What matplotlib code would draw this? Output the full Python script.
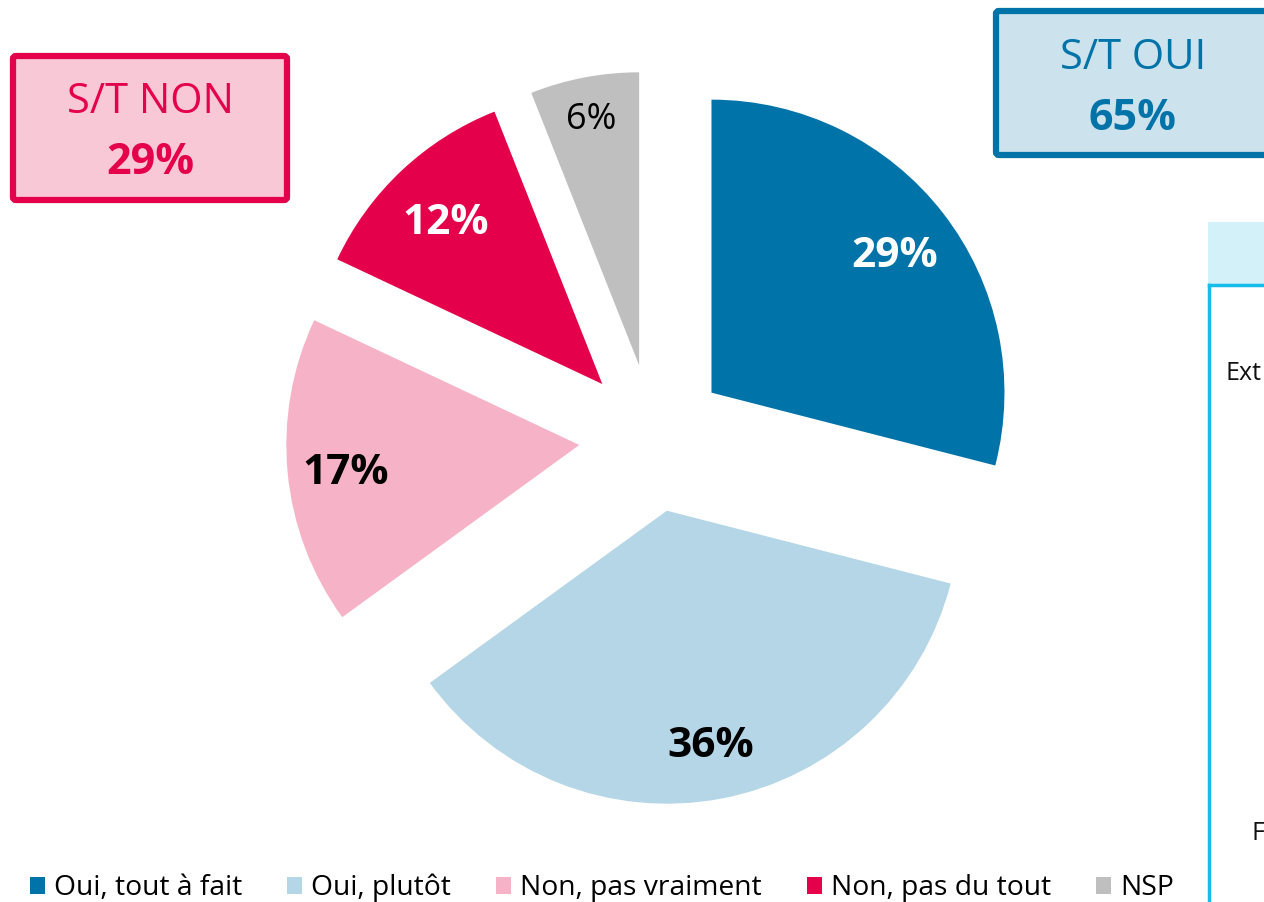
import numpy as np
import matplotlib.pyplot as plt
from matplotlib.patches import Rectangle, FancyBboxPatch

plt.rcParams['font.family'] = ['Open Sans', 'DejaVu Sans']

categories = ["Oui, tout à fait", "Oui, plutôt", "Non, pas vraiment", "Non, pas du tout", "NSP"]
values = [29, 36, 17, 12, 6]
colors = ["#0073A9", "#B4D6E6", "#F6B3C8", "#E4004B", "#BFBFBF"]
label_colors = ["white", "black", "black", "white", "black"]
label_weights = ["bold", "bold", "bold", "bold", "normal"]
label_sizes = [30.5, 30.5, 30.5, 30.5, 26]
label_dist = [0.79, 0.80, 0.80, 0.78, 0.87]

st_non = 29
st_oui = 65

W, H = 1264, 902
fig = plt.figure(figsize=(W / 100, H / 100), dpi=100)
ax = fig.add_axes([0, 0, 1, 1])


def Y(y):
    # image coords (y from top) -> data coords
    return H - y


wedges, texts, autotexts = ax.pie(
    values, colors=colors, startangle=90, counterclock=False,
    center=(653, Y(438)), radius=293, explode=[74] * len(values),
    autopct=lambda p: f"{p:.0f}%", pctdistance=0.79,
    wedgeprops=dict(linewidth=0), frame=False)

for wdg, t, c, w, s, d in zip(wedges, autotexts, label_colors, label_weights,
                              label_sizes, label_dist):
    t.set_color(c)
    t.set_fontweight(w)
    t.set_fontsize(s)
    t.set_va('center_baseline')
    cx, cy = wdg.center
    th = np.deg2rad((wdg.theta1 + wdg.theta2) / 2)
    t.set_position((cx + d * wdg.r * np.cos(th), cy + d * wdg.r * np.sin(th) - 1))

ax.set_xlim(0, W)
ax.set_ylim(0, H)
ax.set_aspect('equal')
ax.axis('off')

# S/T NON box
ax.add_patch(FancyBboxPatch((13, Y(200)), 274, 144, boxstyle="round,pad=0,rounding_size=3",
                            facecolor="#F9C8D7", edgecolor="#E4004B", linewidth=4.5))
ax.text(150, Y(97), "S/T NON", color="#E4004B", fontsize=30, ha='center', va='center_baseline')
ax.text(150, Y(157), f"{st_non}%", color="#E4004B", fontsize=31, fontweight='bold',
        ha='center', va='center_baseline')

# S/T OUI box
ax.add_patch(FancyBboxPatch((996, Y(155)), 300, 144, boxstyle="round,pad=0,rounding_size=3",
                            facecolor="#CCE2EC", edgecolor="#0073A9", linewidth=4.5))
ax.text(1133, Y(53), "S/T OUI", color="#0073A9", fontsize=30, ha='center', va='center_baseline')
ax.text(1133, Y(113), f"{st_oui}%", color="#0073A9", fontsize=31, fontweight='bold',
        ha='center', va='center_baseline')

# partial panel on the right
ax.add_patch(Rectangle((1208, Y(284)), 60, 62, facecolor="#D2F1F9", edgecolor="none"))
ax.plot([1209, 1209], [Y(285), Y(905)], color="#16BDE8", linewidth=2.5)
ax.plot([1209, 1270], [Y(285), Y(285)], color="#16BDE8", linewidth=2.5)
ax.text(1225, Y(371), "Ext", fontsize=18, ha='left', va='center_baseline', color="#111111")
ax.text(1252, Y(831), "F", fontsize=18, ha='left', va='center_baseline', color="#111111")

fig.legend(wedges, categories, loc='center', bbox_to_anchor=(0.476, 1 - 888 / H),
           ncol=5, frameon=False, fontsize=20.3, handlelength=0.55, handleheight=0.55,
           handletextpad=0.3, columnspacing=1.6, borderpad=0, borderaxespad=0)

fig.savefig("out.png", dpi=100)
